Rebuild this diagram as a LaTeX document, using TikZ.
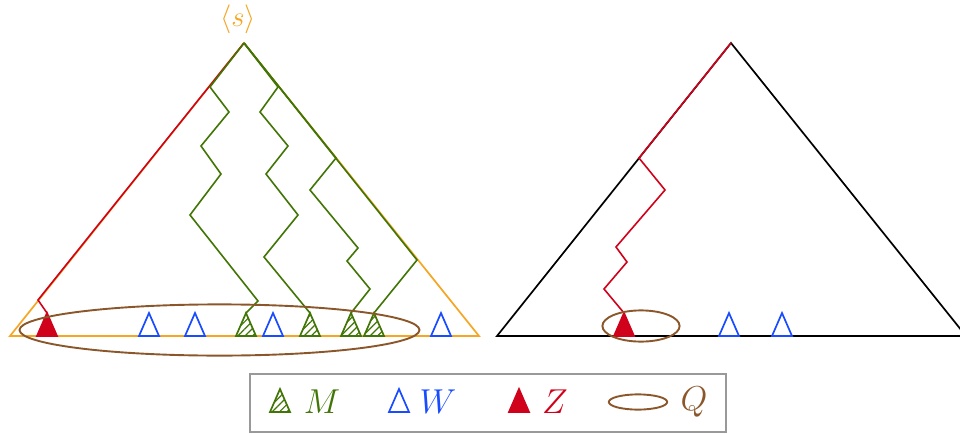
\documentclass[tikz,border=0pt]{standalone}
\usepackage{amsmath,amssymb}
\usetikzlibrary{patterns.meta,calc}
\definecolor{sorange}{RGB}{245,166,35}
\definecolor{sgreen}{RGB}{65,117,5}
\definecolor{sred}{RGB}{208,2,27}
\definecolor{sblue}{RGB}{25,75,255}
\definecolor{sbrown}{RGB}{139,87,42}
\tikzset{
  outline/.style={line width=0.85pt, line join=miter},
  walk/.style={line width=0.8pt, line join=miter},
  leaf/.style={line width=0.85pt, line join=miter},
  mleaf/.style={leaf, draw=sgreen, fill=white,
    postaction={pattern={Lines[angle=45,distance=2.6pt,line width=0.6pt]}, pattern color=sgreen}},
  wleaf/.style={leaf, draw=sblue, fill=white},
  zleaf/.style={leaf, draw=sred, fill=sred},
  qset/.style={draw=sbrown, line width=0.95pt},
  lbl/.style={font=\LARGE, inner sep=0pt},
}
% leaf triangle: style, x of apex, y of base, name of apex
\newcommand{\leaf}[4]{\draw[#1] (#2-10,#3) -- (#2,#3-23) coordinate (#4) -- (#2+10,#3) -- cycle;}

\begin{document}
\begin{tikzpicture}[x=0.5pt, y=-0.5pt]
\useasboundingbox (0,0) rectangle (960,434);

% left tree
\coordinate (s) at (244,43);
\coordinate (sl) at (10,336);
\coordinate (sr) at (479,336);
\draw[outline, sorange] (s) -- (sl) -- (sr) -- cycle;
\node[lbl, font=\Large, text=sorange] (slabel) at (238,19) {$\langle s\rangle$};

\leaf{zleaf}{47}{336}{z1}
\leaf{wleaf}{149}{336}{w1}
\leaf{wleaf}{195}{336}{w2}
\leaf{mleaf}{246}{336}{m1}
\leaf{wleaf}{273}{336}{w3}
\leaf{mleaf}{310}{336}{m2}
\leaf{mleaf}{351}{336}{m3}
\leaf{mleaf}{374}{336}{m4}
\leaf{wleaf}{441}{336}{w4}

\draw[walk, sred] (s) -- (38,300) -- (z1);
\draw[walk, sgreen] (s) -- (210,87) -- (229,112) -- (201,146) -- (221,174)
  -- (190,215) -- (258,301) -- (m1);
\draw[walk, sgreen] (s) -- (278,87) -- (260,112) -- (288,146) -- (266,174)
  -- (298,215) -- (264,257) -- (m2);
\draw[walk, sgreen] (s) -- (336,158) -- (310,190) -- (358,248) -- (347,261)
  -- (370,289) -- (m3);
\draw[walk, sgreen] (s) -- (417,260) -- (m4);

\draw[qset] (219.5,330) ellipse [x radius=100pt, y radius=12.8pt];

% right tree
\coordinate (t) at (731,43);
\coordinate (tl) at (497,336);
\coordinate (tr) at (966,336);
\draw[outline, black] (t) -- (tl) -- (tr) -- cycle;

\leaf{zleaf}{624}{336}{z2}
\leaf{wleaf}{729}{336}{w5}
\leaf{wleaf}{782}{336}{w6}

\draw[walk, sred] (t) -- (639,158) -- (665,190) -- (616,247) -- (627,262)
  -- (604,289) -- (z2);

\draw[qset] (641,326) ellipse [x radius=19.3pt, y radius=7.8pt];

% legend
\node[draw=gray!80, line width=0.8pt, minimum width=238pt, minimum height=29pt,
  inner sep=0pt] (legend) at (488,403) {};
\leaf{mleaf}{280}{412}{lm}
\node[lbl, text=sgreen] (lmtext) at (322,402) {$M$};
\leaf{wleaf}{399}{412}{lw}
\node[lbl, text=sblue] (lwtext) at (438,402) {$W$};
\leaf{zleaf}{519}{412}{lz}
\node[lbl, text=sred] (lztext) at (555,402) {$Z$};
\draw[qset] (638,402) ellipse [x radius=14.6pt, y radius=3.8pt];
\node[lbl, text=sbrown] (lqtext) at (694,402) {$Q$};
\end{tikzpicture}
\end{document}
